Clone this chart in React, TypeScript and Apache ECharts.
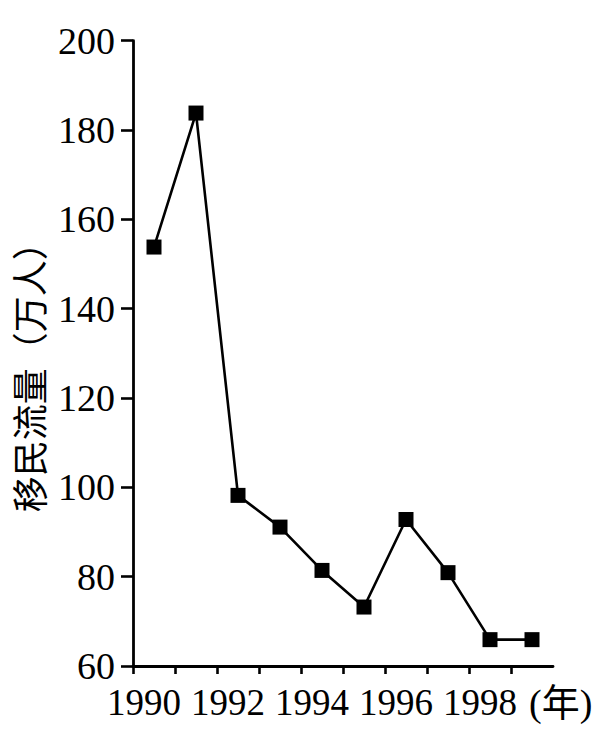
import React, { useEffect, useRef } from "react";
import * as echarts from "echarts";

const years = [1990, 1991, 1992, 1993, 1994, 1995, 1996, 1997, 1998, 1999];
const migrants = [153.8, 183.8, 98.2, 91.1, 81.4, 73.2, 92.8, 80.9, 65.9, 65.9];
const labelYears = [1990, 1992, 1994, 1996, 1998];
const yTitle = "移民流量（万人）";
const xTitle = "(年)";

export default function App() {
  const ref = useRef<HTMLDivElement>(null);
  useEffect(() => {
    document.body.style.margin = "0";
    const chart = echarts.init(ref.current!, null, { renderer: "svg" });
    const serif = "'Liberation Serif', 'Times New Roman', serif";
    const cjk = "'Noto Sans CJK SC', sans-serif";
    chart.setOption({
      animation: false,
      backgroundColor: "#ffffff",
      grid: { left: 133, right: 59, top: 40.7, bottom: 70 },
      xAxis: {
        type: "value",
        min: years[0] - 0.5,
        max: years[years.length - 1] + 0.5,
        axisLine: { show: true, lineStyle: { color: "#000", width: 2.8 } },
        axisTick: {
          show: true,
          length: 8,
          customValues: years.map((y) => y - 0.5),
          lineStyle: { color: "#000", width: 2.6 },
        },
        axisLabel: {
          customValues: labelYears,
          formatter: (v: number) => String(Math.round(v)),
          color: "#000",
          fontFamily: serif,
          fontSize: 37,
          margin: 18,
          padding: [0, 20, 0, 0],
        },
        splitLine: { show: false },
      },
      yAxis: {
        type: "value",
        min: 60,
        max: 200,
        interval: 20,
        name: yTitle,
        nameLocation: "middle",
        nameGap: 87,
        nameTextStyle: {
          color: "#000",
          fontFamily: cjk,
          fontSize: 36,
          padding: [0, 30, 0, 0],
        },
        axisLine: { show: true, lineStyle: { color: "#000", width: 2.8 } },
        axisTick: { show: true, length: 12, lineStyle: { color: "#000", width: 2.6 } },
        axisLabel: {
          color: "#000",
          fontFamily: serif,
          fontSize: 38,
          margin: 18,
        },
        splitLine: { show: false },
      },
      graphic: [
        {
          type: "text",
          x: 529,
          y: 703,
          style: {
            text: xTitle,
            fill: "#000",
            font: "38px 'Liberation Serif', 'Noto Sans CJK SC', serif",
            align: "left",
            verticalAlign: "middle",
          },
        },
      ],
      series: [
        {
          type: "line",
          data: years.map((y, i) => [y, migrants[i]]),
          symbol: "rect",
          symbolSize: 15,
          lineStyle: { color: "#000", width: 2.6 },
          itemStyle: { color: "#000" },
          clip: false,
        },
      ],
    });
    return () => chart.dispose();
  }, []);
  return <div ref={ref} style={{ width: 612, height: 736 }} />;
}
